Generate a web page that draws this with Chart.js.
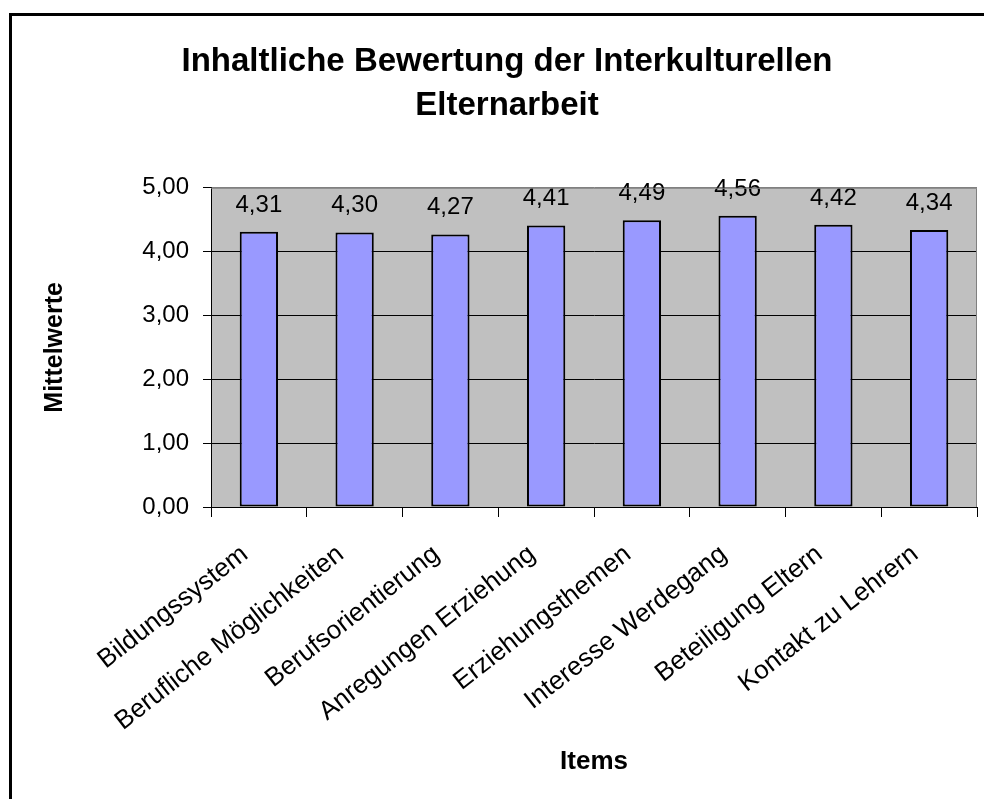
<!DOCTYPE html>
<html>
<head>
<meta charset="utf-8">
<script src="https://cdn.jsdelivr.net/npm/chart.js@4.4.1/dist/chart.umd.min.js"></script>
<style>
  html, body { margin: 0; padding: 0; background: #fff; }
  #wrap { position: relative; width: 984px; height: 799px; }
</style>
</head>
<body>
<div id="wrap"><canvas id="c"></canvas></div>
<script>
const categories = [
  'Bildungssystem',
  'Berufliche Möglichkeiten',
  'Berufsorientierung',
  'Anregungen Erziehung',
  'Erziehungsthemen',
  'Interesse Werdegang',
  'Beteiligung Eltern',
  'Kontakt zu Lehrern'
];
const meanValues = [4.31, 4.30, 4.27, 4.41, 4.49, 4.56, 4.42, 4.34];
const yTickValues = [0, 1, 2, 3, 4, 5];
const titleLines = ['Inhaltliche Bewertung der Interkulturellen', 'Elternarbeit'];
const yAxisTitle = 'Mittelwerte';
const xAxisTitle = 'Items';

const FONT = "'Liberation Sans', Arial, sans-serif";
const fmt = v => v.toFixed(2).replace('.', ',');

const framePlugin = {
  id: 'frame',
  beforeDraw(chart) {
    const ctx = chart.ctx;
    const a = chart.chartArea;
    ctx.save();
    ctx.fillStyle = '#ffffff';
    ctx.fillRect(0, 0, chart.width, chart.height);
    ctx.fillStyle = '#C0C0C0';
    ctx.fillRect(a.left, a.top, a.right - a.left, a.bottom - a.top);
    ctx.restore();
  },
  afterDraw(chart) {
    const ctx = chart.ctx;
    const a = chart.chartArea;
    ctx.save();
    ctx.strokeStyle = '#808080';
    ctx.lineWidth = 1;
    ctx.beginPath();
    ctx.moveTo(a.left, a.top + 0.5);
    ctx.lineTo(a.right - 0.5, a.top + 0.5);
    ctx.lineTo(a.right - 0.5, a.bottom);
    ctx.stroke();
    ctx.strokeStyle = '#000000';
    ctx.lineWidth = 3;
    ctx.beginPath();
    ctx.moveTo(10.5, chart.height);
    ctx.lineTo(10.5, 14.5);
    ctx.lineTo(chart.width, 14.5);
    ctx.stroke();
    ctx.restore();
  }
};

const valueLabels = {
  id: 'valueLabels',
  afterDatasetsDraw(chart) {
    const ctx = chart.ctx;
    const meta = chart.getDatasetMeta(0);
    ctx.save();
    ctx.font = '24px ' + FONT;
    ctx.fillStyle = '#000';
    ctx.textAlign = 'center';
    ctx.textBaseline = 'alphabetic';
    meta.data.forEach((bar, i) => {
      ctx.fillText(fmt(meanValues[i]), bar.x, bar.y - 20);
    });
    ctx.restore();
  }
};

new Chart(document.getElementById('c'), {
  type: 'bar',
  data: {
    labels: categories,
    datasets: [{
      data: meanValues,
      backgroundColor: '#9999FF',
      borderColor: '#000000',
      borderWidth: 2,
      borderSkipped: false,
      barPercentage: 0.4,
      categoryPercentage: 1.0
    }]
  },
  options: {
    responsive: true,
    maintainAspectRatio: false,
    animation: false,
    devicePixelRatio: 1,
    layout: { padding: { left: 37, right: 7, top: 14, bottom: 0 } },
    plugins: {
      legend: { display: false },
      tooltip: { enabled: false },
      title: {
        display: true,
        text: titleLines,
        color: '#000',
        font: { family: FONT, size: 33, weight: 'bold', lineHeight: 1.33 },
        padding: { top: 26, bottom: 60 }
      }
    },
    scales: {
      x: {
        afterFit(scale) { scale.height = 292; },
        grid: {
          display: true,
          offset: true,
          drawOnChartArea: false,
          drawTicks: true,
          tickLength: 10,
          color: '#000',
          tickColor: '#000',
          lineWidth: 1
        },
        border: { display: true, color: '#000', width: 1 },
        ticks: {
          autoSkip: false,
          minRotation: 38,
          maxRotation: 38,
          padding: 22,
          labelOffset: -14,
          color: '#000',
          font: { family: FONT, size: 26 }
        },
        title: {
          display: true,
          text: xAxisTitle,
          color: '#000',
          font: { family: FONT, size: 26, weight: 'bold', lineHeight: 1.2 },
          padding: { top: 0, bottom: 22 }
        }
      },
      y: {
        min: 0,
        max: 5,
        afterFit(scale) { scale.width = 174; },
        afterBuildTicks(scale) { scale.ticks = yTickValues.map(v => ({ value: v })); },
        grid: {
          drawTicks: true,
          tickLength: 8,
          color: ctx => (ctx.tick && ctx.tick.value === 5) ? '#808080' : '#000',
          tickColor: '#000',
          lineWidth: 1
        },
        border: { display: true, color: '#000', width: 1 },
        ticks: {
          padding: 14,
          color: '#000',
          font: { family: FONT, size: 24 },
          callback: v => fmt(v)
        },
        title: {
          display: true,
          text: yAxisTitle,
          color: '#000',
          font: { family: FONT, size: 25, weight: 'bold', lineHeight: 1.2 },
          padding: { top: 3, bottom: 0 }
        }
      }
    }
  },
  plugins: [framePlugin, valueLabels]
});
</script>
</body>
</html>
